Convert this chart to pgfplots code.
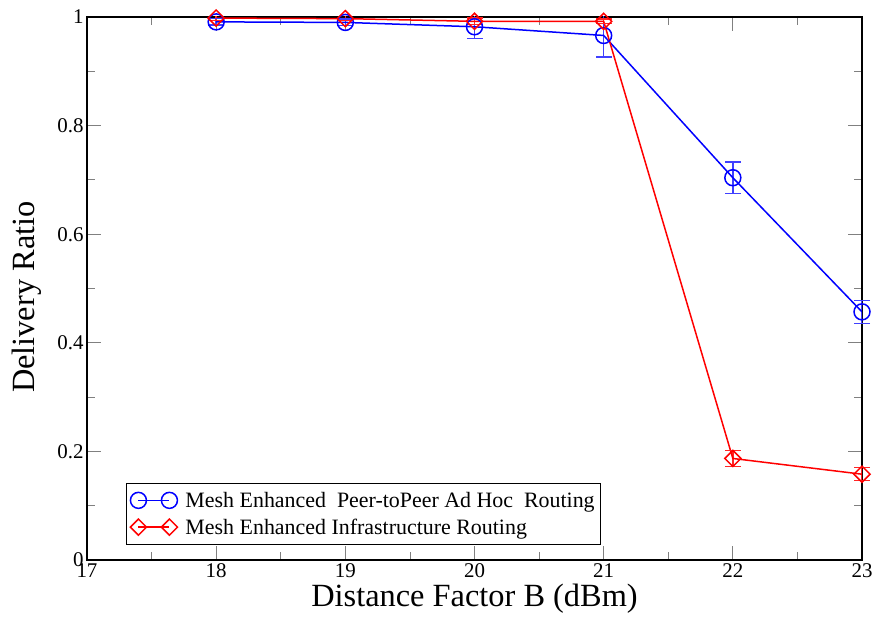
\documentclass[border=0pt]{standalone}
\usepackage{pgfplots}
\pgfplotsset{compat=1.18}
\usepackage{fontspec}
\setmainfont{Liberation Serif}
\begin{document}
\begin{tikzpicture}
\begin{axis}[
 scale only axis, width=775bp, height=543bp,
 xmin=17, xmax=23, ymin=0, ymax=1,
 xtick={17,18,19,20,21,22,23},
 ytick={0,0.2,0.4,0.6,0.8,1}, yticklabels={0,0.2,0.4,0.6,0.8,1},
 minor x tick num=1, minor y tick num=1,
 tick align=inside, major tick length=14bp, minor tick length=8bp,
 tick style={line width=0.8bp},
 axis line style={line width=1.2bp},
 ticklabel style={font=\fontsize{21}{25}\selectfont},
 /pgf/number format/assume math mode=true,
 xlabel={Distance Factor B (dBm)}, ylabel={Delivery Ratio},
 label style={font=\fontsize{32.5}{39}\selectfont},
 ylabel style={at={(ticklabel cs:0.484)}},
 ylabel shift=9bp,
 unbounded coords=jump,
 legend cell align=left,
 legend image code/.code={\draw[#1] plot coordinates {(0bp,0bp) (31bp,0bp)};},
 legend style={at={(0.0503,0.0276)}, anchor=south west, line width=0.8bp,
   font=\fontsize{22}{26}\selectfont, inner xsep=4bp, inner ysep=7bp,
   row sep=6bp, /tikz/every odd column/.append style={column sep=6bp}},
]
% error bars (low, high) for each point
\addplot[forget plot, color=blue!75, line width=1.4bp, mark=-, mark size=8bp, mark options={solid}]
  coordinates {
(18,0.985) (18,0.997) (18,nan)
(19,0.984) (19,0.996) (19,nan)
(20,0.960) (20,1.004) (20,nan)
(21,0.926) (21,1.006) (21,nan)
(22,0.675) (22,0.733) (22,nan)
(23,0.436) (23,0.478)
};
\addplot[forget plot, color=red!85, line width=1.4bp, mark=-, mark size=8bp, mark options={solid}]
  coordinates {
(18,0.994) (18,1.002) (18,nan)
(19,0.993) (19,1.001) (19,nan)
(20,0.986) (20,0.998) (20,nan)
(21,0.988) (21,0.996) (21,nan)
(22,0.172) (22,0.202) (22,nan)
(23,0.146) (23,0.170)
};
\addplot[color=blue, line width=1.5bp, mark=o, mark size=8bp, mark options={solid}]
  table[x=x, y=y] {
x y
18 0.991
19 0.990
20 0.982
21 0.966
22 0.704
23 0.457
};
\addlegendentry{Mesh Enhanced\ \ Peer-toPeer Ad Hoc\ \ Routing}
\addplot[color=red, line width=1.5bp, mark=square, mark size=5.7bp, mark options={solid, rotate=45}]
  table[x=x, y=y] {
x y
18 0.998
19 0.997
20 0.992
21 0.992
22 0.187
23 0.158
};
\addlegendentry{Mesh Enhanced Infrastructure Routing}
\end{axis}
\pgfresetboundingbox
\path (current axis.south west) +(-87bp,-66bp) rectangle +(791bp,560bp);
\end{tikzpicture}
\end{document}
